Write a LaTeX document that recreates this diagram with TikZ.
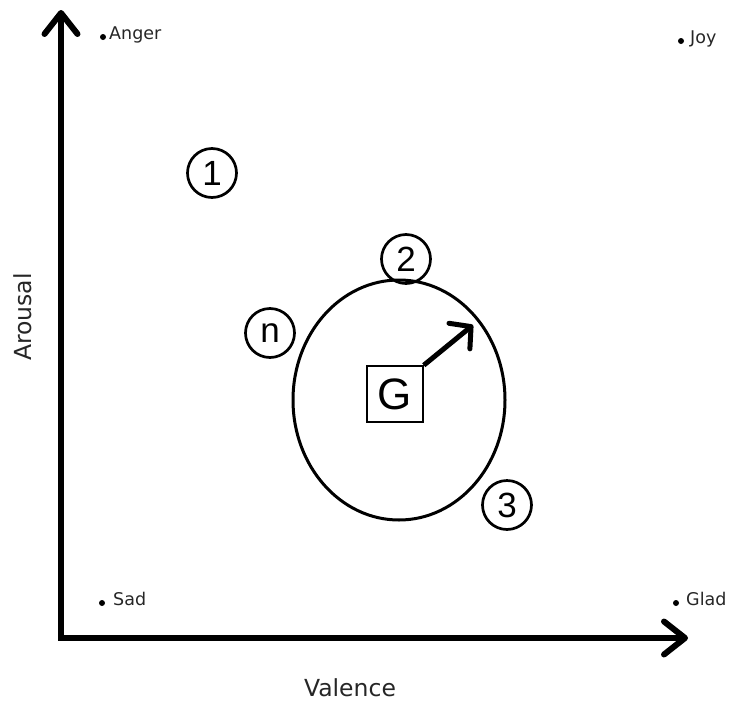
\documentclass[tikz,border=0pt]{standalone}
\usepackage{fontspec}
\setmainfont{DejaVu Sans}
\newfontfamily\arialf{Liberation Sans}
\usetikzlibrary{arrows.meta,shapes.geometric}
\tikzset{
  axis/.style={line width=6pt,-{Straight Barb[length=21pt,width=33pt,round]}},
  dotm/.style={circle,fill=black,inner sep=0pt,minimum size=6pt},
  lbl/.style={anchor=mid west,inner sep=0pt,text=black!85,font=\fontsize{17.5}{20}\selectfont},
  axlbl/.style={inner sep=0pt,text=black!85,font=\fontsize{23.5}{26}\selectfont},
  num/.style={circle,draw,line width=2.7pt,minimum size=49pt,inner sep=0pt,font=\arialf\fontsize{35}{38}\selectfont},
  gbox/.style={rectangle,draw,line width=1.6pt,minimum size=56pt,inner sep=0pt,font=\arialf\fontsize{44}{48}\selectfont},
  ell/.style={ellipse,draw,line width=3pt,minimum width=212pt,minimum height=240pt,inner sep=0pt}
}
\begin{document}
\begin{tikzpicture}[x=1pt,y=-1pt]
\useasboundingbox (0,0) rectangle (729,702);
% axes
\coordinate (O) at (61,638);
\coordinate (Ytip) at (61,10);
\coordinate (Xtip) at (688,638);
\draw[axis] (O) -- (Ytip);
\draw[axis] (O) -- (Xtip);
\draw[line width=6pt] ([xshift=-3pt]O) -- ([xshift=2pt]O);
% axis labels
\node[axlbl] (val) at (350,688) {Valence};
\node[axlbl,rotate=90] (aro) at (23,317) {Arousal};
% corner labels
\node[dotm] (dA) at (103,37) {};
\node[lbl] (tA) at (109,37) {Anger};
\node[dotm] (dJ) at (681,41) {};
\node[lbl] (tJ) at (690,41) {Joy};
\node[dotm] (dS) at (102,603) {};
\node[lbl] (tS) at (113,603) {Sad};
\node[dotm] (dG) at (676,603) {};
\node[lbl] (tG) at (686,603) {Glad};
% ellipse
\node[ell] (E) at (399,400) {};
% numbered circles
\node[num] (c1) at (212,173) {1};
\node[num] (c2) at (406,259) {2};
\node[num] (cn) at (270,333) {n};
\node[num] (c3) at (507,505) {3};
% G box and arrow
\node[gbox] (G) at (395,394) {G};
\coordinate (Gt) at (473,325);
\draw[line width=5pt,-{Straight Barb[length=15pt,width=33pt,round]}] (G.north east) -- (Gt);
\end{tikzpicture}
\end{document}
